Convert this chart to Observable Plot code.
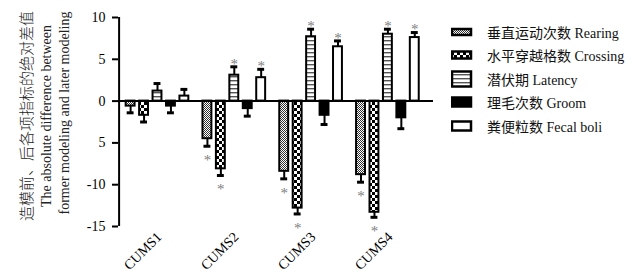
<!DOCTYPE html>
<html><head><meta charset="utf-8">
<script src="https://cdn.jsdelivr.net/npm/d3@7"></script>
<script src="https://cdn.jsdelivr.net/npm/@observablehq/plot@0.6"></script>
<style>
body{margin:0;background:#fff;}
#wrap{position:relative;width:635px;height:273px;font-family:"Liberation Serif","Noto Sans CJK SC",serif;}
#legend{position:absolute;left:451px;top:0;}
.row{position:absolute;left:0;height:24px;display:flex;align-items:center;white-space:nowrap;font-size:14px;color:#111;}
.row svg{display:block;margin-right:14px;}
.xl{position:absolute;height:16px;line-height:16px;font-size:14px;color:#000;white-space:nowrap;transform:rotate(-45deg);transform-origin:100% 50%;}
</style></head>
<body>
<svg width="0" height="0" style="position:absolute">
<defs>
<pattern id="p-rearing" patternUnits="userSpaceOnUse" width="2" height="2"><rect width="2" height="2" fill="#fff"/><rect width="1" height="1" fill="#333"/><rect x="1" y="1" width="1" height="1" fill="#333"/></pattern>
<pattern id="p-crossing" patternUnits="userSpaceOnUse" width="6" height="6"><rect width="6" height="6" fill="#fff"/><rect width="3" height="3" fill="#000"/><rect x="3" y="3" width="3" height="3" fill="#000"/></pattern>
<pattern id="p-latency" patternUnits="userSpaceOnUse" width="4" height="4"><rect width="4" height="4" fill="#fff"/><rect width="4" height="1.4" fill="#555"/></pattern>
</defs></svg>
<div id="wrap"><div id="legend"></div></div>
<script>
// ---- data ----
const groups = ["CUMS1", "CUMS2", "CUMS3", "CUMS4"];
const seriesNames = ["垂直运动次数 Rearing", "水平穿越格数 Crossing", "潜伏期 Latency", "理毛次数 Groom", "粪便粒数 Fecal boli"];
const rearing  = [-0.6, -4.5, -8.4, -8.8];
const crossing = [-1.7, -8.1, -12.8, -13.3];
const latency  = [1.2, 3.1, 7.7, 8.0];
const groom    = [-0.6, -0.9, -1.7, -2.0];
const fecal    = [0.6, 2.8, 6.5, 7.6];
const rearingErr  = [0.8, 0.9, 0.9, 0.9];
const crossingErr = [0.8, 0.8, 0.7, 0.6];
const latencyErr  = [0.9, 1.0, 0.9, 0.6];
const groomErr    = [0.8, 0.9, 1.1, 1.3];
const fecalErr    = [0.8, 1.0, 0.7, 0.6];
const rearingSig  = [false, true, true, true];
const crossingSig = [false, true, true, true];
const latencySig  = [false, true, true, true];
const groomSig    = [false, false, false, false];
const fecalSig    = [false, true, true, true];
const yTicks = [10, 5, 0, -5, -10, -15];
const yTickLabels = ["10", "5", "0", "5", "-10", "-15"];

// ---- styles ----
const fills = ["url(#p-rearing)", "url(#p-crossing)", "url(#p-latency)", "#000", "#fff"];
const swatchH = [6, 7, 15, 9, 9];

const values = [rearing, crossing, latency, groom, fecal];
const errs = [rearingErr, crossingErr, latencyErr, groomErr, fecalErr];
const sigs = [rearingSig, crossingSig, latencySig, groomSig, fecalSig];

const step = 0.175, hw = 0.058, cw = 0.045;
const rows = groups.flatMap((g, gi) => seriesNames.map((s, si) => {
  const v = values[si][gi], e = errs[si][gi];
  return {g, gi, s, si, v, e, sig: sigs[si][gi], xc: gi + (si - 2) * step, end: v + Math.sign(v) * e};
}));
const xDomain = [-0.5, 3.5];
const groupIdx = groups.map((g, i) => i);

const marks = [];
seriesNames.forEach((s, si) => {
  marks.push(Plot.rectY(rows.filter(d => d.si === si), {
    x1: d => d.xc - hw, x2: d => d.xc + hw, y1: 0, y2: "v",
    fill: fills[si], stroke: "#000", strokeWidth: 2
  }));
});
marks.push(
  Plot.ruleX(rows, {x: "xc", y1: "v", y2: "end", stroke: "#000", strokeWidth: 2}),
  Plot.ruleY(rows, {y: "end", x1: d => d.xc - cw, x2: d => d.xc + cw, stroke: "#000", strokeWidth: 3}),
  Plot.text(rows.filter(d => d.sig && d.v > 0), {x: "xc", y: "end", text: () => "*", dy: -3, fill: "#808080", fontSize: 15}),
  Plot.text(rows.filter(d => d.sig && d.v < 0), {x: "xc", y: "end", text: () => "*", dy: 14, fill: "#808080", fontSize: 15}),
  Plot.ruleY([0], {stroke: "#000", strokeWidth: 2}),
  Plot.ruleX([xDomain[0]], {stroke: "#000", strokeWidth: 2}),
  Plot.axisY({ticks: yTicks, tickFormat: d => yTickLabels[yTicks.indexOf(d)], tickSize: 6, tickPadding: 7, fontSize: 14, strokeWidth: 2, label: null})
);

const chart = Plot.plot({
  width: 635, height: 273,
  marginLeft: 118, marginRight: 202, marginTop: 17, marginBottom: 47,
  x: {type: "linear", domain: xDomain, range: [118.6, 425.8], axis: null},
  y: {domain: [-15, 10]},
  style: {fontFamily: "Liberation Serif", fontSize: "14px", color: "#000", background: "#fff", overflow: "visible"},
  marks
});
document.getElementById("wrap").prepend(chart);

const svg = d3.select(chart);
const xs = chart.scale("x"), ys = chart.scale("y");

// x category labels, rotated -45°, positioned with Plot's scales
const wrap = d3.select("#wrap");
groupIdx.forEach(i => {
  const px = xs.apply(i) + 3, py = ys.apply(-15) + 9;
  wrap.append("div").attr("class", "xl")
    .style("right", (635 - px) + "px").style("top", (py - 8) + "px")
    .text(groups[i]);
});

// y title
const t = svg.append("g").attr("fill", "#222");
t.append("text").attr("transform", "translate(25,116) rotate(-90)")
  .attr("text-anchor", "middle").attr("dominant-baseline", "central")
  .attr("font-family", "Noto Sans CJK SC").attr("font-size", 15).attr("font-weight", 300)
  .text("造模前、后各项指标的绝对差值");
t.append("text").attr("transform", "translate(46,116) rotate(-90)")
  .attr("text-anchor", "middle").attr("dominant-baseline", "central")
  .attr("font-family", "Liberation Serif").attr("font-size", 14)
  .text("The absolute difference between");
t.append("text").attr("transform", "translate(64,113) rotate(-90)")
  .attr("text-anchor", "middle").attr("dominant-baseline", "central")
  .attr("font-family", "Liberation Serif").attr("font-size", 14)
  .text("former modeling and later modeling");

// legend
const leg = d3.select("#legend");
seriesNames.forEach((s, i) => {
  const row = leg.append("div").attr("class", "row").style("top", (19.5 + i * 23.5) + "px");
  const h = swatchH[i];
  const sw = row.append("svg").attr("width", 22).attr("height", 18);
  sw.append("rect").attr("x", 1).attr("y", 9 - h / 2).attr("width", 19).attr("height", h)
    .attr("fill", fills[i]).attr("stroke", "#000").attr("stroke-width", 2.5);
  row.append("span").text(s);
});
</script>
</body></html>
